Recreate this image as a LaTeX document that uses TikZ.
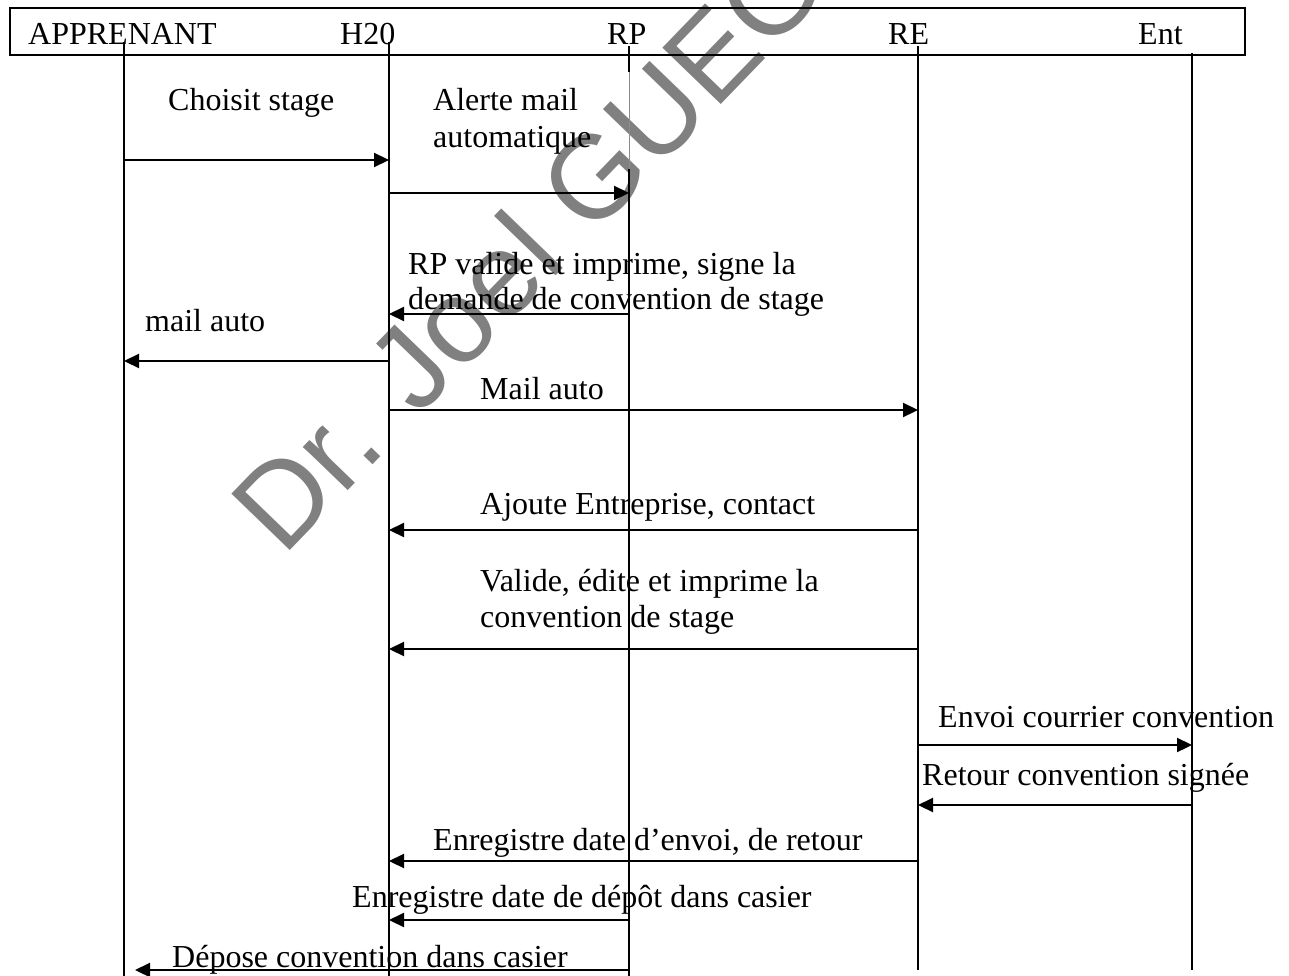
\documentclass[tikz,border=0pt]{standalone}
\usepackage{fontspec}
\setmainfont{Liberation Serif}
\newfontfamily\wmfont{Liberation Sans}
\usetikzlibrary{arrows.meta}
\definecolor{wmgray}{RGB}{128,128,128}
\tikzset{
  lbl/.style={anchor=base west, inner sep=0pt, font=\fontsize{32}{36}\selectfont},
  life/.style={line width=1.5pt},
  msg/.style={line width=2.2pt, -{Triangle[length=15pt,width=14pt]}},
  hdrbox/.style={draw, line width=2.2pt, inner sep=0pt, outer sep=0pt},
  wm/.style={text=wmgray, font=\wmfont\fontsize{118}{118}\selectfont,
             anchor=base west, inner sep=0pt, rotate=46},
}
\begin{document}
\begin{tikzpicture}[x=1pt,y=-1pt]
\useasboundingbox[fill=white] (0,0) rectangle (1289,976);

% watermark
\begin{scope}
  \clip (0,0) rectangle (1289,976);
  \node[wm] (mark) at (283,558) {Dr. Joel GUEG};
\end{scope}

% header band with the actors
\node[hdrbox, minimum width=1235pt, minimum height=47pt, anchor=north west] (hdr) at (10,8) {};
\node[lbl] (tApp) at (28,45)   {APPRENANT};
\node[lbl] (tH)   at (340,45)  {H20};
\node[lbl] (tRP)  at (607,45)  {RP};
\node[lbl] (tRE)  at (888,45)  {RE};
\node[lbl] (tEnt) at (1138,45) {Ent};

% lifelines
\coordinate (app)  at (124,42);  \coordinate (appB) at (124,976);
\coordinate (h20)  at (389,42);  \coordinate (h20B) at (389,976);
\coordinate (rp)   at (629,46);  \coordinate (rpB)  at (629,976);
\coordinate (re)   at (918,46);  \coordinate (reB)  at (918,970);
\coordinate (ent)  at (1192,53); \coordinate (entB) at (1192,970);
\draw[life] (app) -- (appB);
\draw[life] (h20) -- (h20B);
\draw[life] (rp) -- (rp |- 0,72);
\draw[line width=0.7pt, black!45] (rp |- 0,72) -- (rp |- 0,169);
\draw[life] (rp |- 0,169) -- (rpB);
\draw[life] (re) -- (reB);
\draw[life] (ent) -- (entB);

% messages
\draw[msg] (app |- 0,160) -- (h20 |- 0,160);
\node[lbl] (m1) at (168,111) {Choisit stage};

\draw[msg] (h20 |- 0,193) -- (rp |- 0,193);
\node[lbl] (m2a) at (433,111) {Alerte mail};
\node[lbl] (m2b) at (433,148) {automatique};

\draw[msg] (rp |- 0,314) -- (h20 |- 0,314);
\node[lbl] (m3a) at (408,274) {RP valide et imprime, signe la};
\node[lbl] (m3b) at (408,309) {demande de convention de stage};

\draw[msg] (h20 |- 0,361) -- (app |- 0,361);
\node[lbl] (m4) at (145,331) {mail auto};

\draw[msg] (h20 |- 0,410) -- (re |- 0,410);
\node[lbl] (m5) at (480,399) {Mail auto};

\draw[msg] (re |- 0,530) -- (h20 |- 0,530);
\node[lbl] (m6) at (480,514) {Ajoute Entreprise, contact};

\draw[msg] (re |- 0,649) -- (h20 |- 0,649);
\node[lbl] (m7a) at (480,591) {Valide, édite et imprime la};
\node[lbl] (m7b) at (480,627) {convention de stage};

\draw[msg] (re |- 0,745) -- (ent |- 0,745);
\node[lbl] (m8) at (938,727) {Envoi courrier convention};

\draw[msg] (ent |- 0,805) -- (re |- 0,805);
\node[lbl] (m9) at (922,785) {Retour convention signée};

\draw[msg] (re |- 0,861) -- (h20 |- 0,861);
\node[lbl] (m10) at (433,850) {Enregistre date d’envoi, de retour};

\draw[msg] (rp |- 0,920) -- (h20 |- 0,920);
\node[lbl] (m11) at (352,907) {Enregistre date de dépôt dans casier};

\coordinate (dep) at (135,970);
\draw[msg] (rp |- 0,970) -- (dep);
\node[lbl] (m12) at (172,967) {Dépose convention dans casier};
\end{tikzpicture}
\end{document}
